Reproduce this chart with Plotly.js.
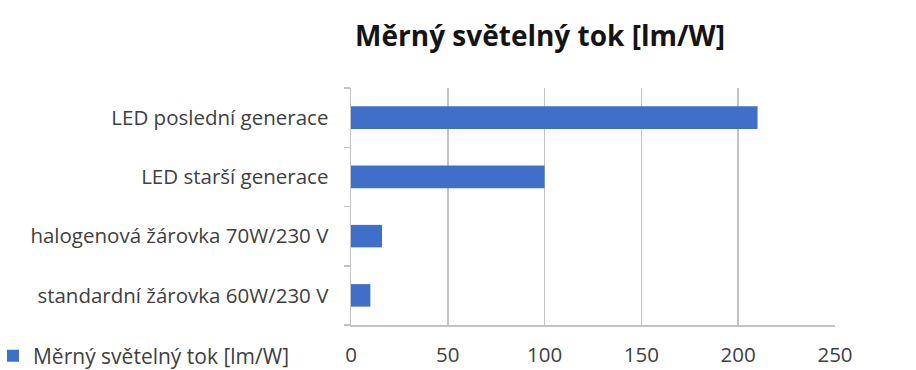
<!DOCTYPE html>
<html>
<head>
<meta charset="utf-8">
<script src="https://cdn.plot.ly/plotly-3.0.1.min.js"></script>
<style>
  html, body { margin: 0; padding: 0; background: #ffffff; }
  #chart { width: 916px; height: 370px; }
</style>
</head>
<body>
<div id="chart"></div>
<script>
// Luminous efficacy of light sources, lm/W
const categories = [
  "standardní žárovka 60W/230 V",
  "halogenová žárovka 70W/230 V",
  "LED starší generace",
  "LED poslední generace"
];
const efficacy = [10, 16, 100, 210];
const xTickValues = [0, 50, 100, 150, 200, 250];
const seriesName = "Měrný světelný tok [lm/W]";
const chartTitle = "Měrný světelný tok [lm/W]";

const FONT = "'Open Sans', 'DejaVu Sans', sans-serif";
const BAR_BLUE = "#3f6fc8";
const TEXT_GREY = "#404040";
const GRID = "#c3c3c3";

const traces = [{
  type: "bar",
  orientation: "h",
  y: categories,
  x: efficacy,
  name: seriesName,
  marker: { color: BAR_BLUE, line: { width: 0 } },
  hoverinfo: "x+y"
}];

const layout = {
  width: 916,
  height: 370,
  margin: { l: 351, r: 81, t: 88, b: 45, pad: 0, autoexpand: false },
  paper_bgcolor: "#ffffff",
  plot_bgcolor: "#ffffff",
  font: { family: FONT, color: TEXT_GREY, size: 20 },
  bargap: 0.62,
  showlegend: true,
  title: {
    text: chartTitle,
    font: { family: FONT, size: 28, color: "#141414", weight: "bold" },
    xref: "container", yref: "container",
    x: 540 / 916, xanchor: "center",
    y: 1 - 36 / 370, yanchor: "middle"
  },
  xaxis: {
    range: [0, 250],
    tickvals: xTickValues,
    ticktext: xTickValues.map(String),
    showgrid: true,
    gridcolor: GRID,
    gridwidth: 1.5,
    zeroline: false,
    showline: true,
    linecolor: GRID,
    linewidth: 1.5,
    ticks: "",
    ticklabelstandoff: 11,
    tickfont: { family: FONT, size: 20.5, color: TEXT_GREY },
    fixedrange: true,
    automargin: false
  },
  yaxis: {
    type: "category",
    categoryorder: "array",
    categoryarray: categories,
    showgrid: false,
    zeroline: false,
    showline: true,
    linecolor: GRID,
    linewidth: 1.5,
    ticks: "outside",
    tickson: "boundaries",
    ticklen: 6,
    tickcolor: GRID,
    tickwidth: 1.5,
    ticklabelstandoff: 17,
    tickfont: { family: FONT, size: 20.5, color: TEXT_GREY },
    fixedrange: true,
    automargin: false
  },
  legend: {
    orientation: "h",
    xref: "paper", yref: "paper",
    x: -0.7397, xanchor: "left",
    y: -0.045, yanchor: "top",
    font: { family: FONT, size: 21, color: TEXT_GREY },
    bgcolor: "rgba(0,0,0,0)",
    itemwidth: 30
  }
};

Plotly.newPlot("chart", traces, layout, { displayModeBar: false, staticPlot: true });
</script>
</body>
</html>
